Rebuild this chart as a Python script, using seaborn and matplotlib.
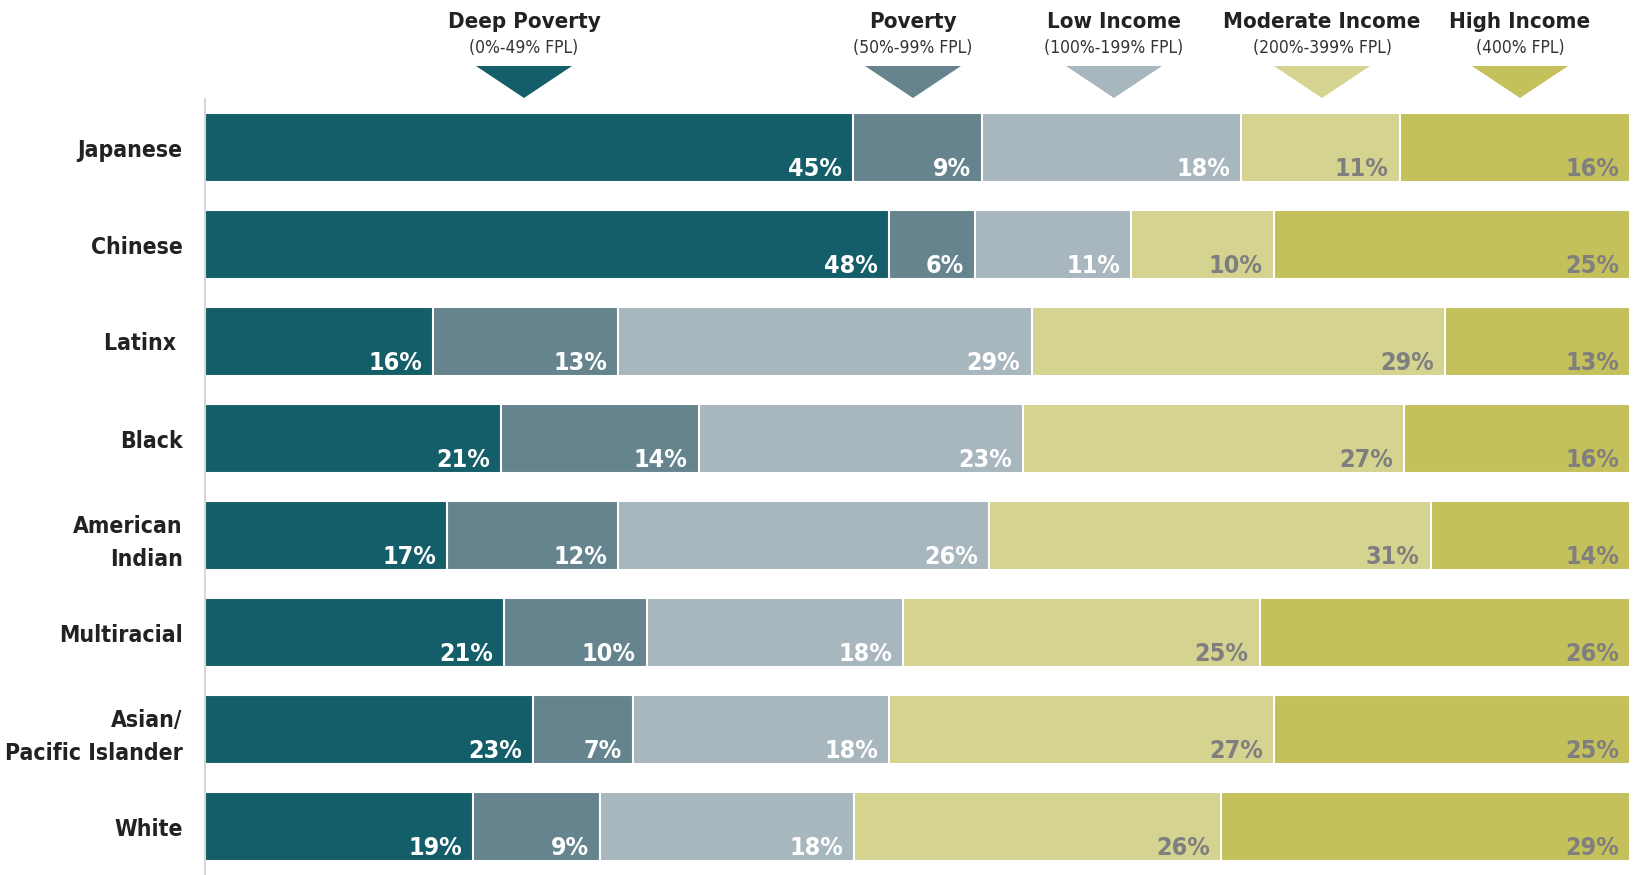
import matplotlib
matplotlib.use("Agg")
import matplotlib.pyplot as plt
from matplotlib.patches import Polygon
import numpy as np
import pandas as pd
import seaborn as sns

groups = ["Japanese", "Chinese", "Latinx ", "Black", "American\nIndian",
          "Multiracial", "Asian/\nPacific Islander", "White"]
deep_poverty = [45, 48, 16, 21, 17, 21, 23, 19]
poverty = [9, 6, 13, 14, 12, 10, 7, 9]
low_income = [18, 11, 29, 23, 26, 18, 18, 18]
moderate_income = [11, 10, 29, 27, 31, 25, 27, 26]
high_income = [16, 25, 13, 16, 14, 26, 25, 29]

levels = ["Deep Poverty", "Poverty", "Low Income", "Moderate Income", "High Income"]
ranges = ["(0%-49% FPL)", "(50%-99% FPL)", "(100%-199% FPL)", "(200%-399% FPL)", "(400% FPL)"]
colors = ["#135e69", "#66848e", "#a8b6bd", "#d4d390", "#c4c05c"]
label_colors = ["white", "white", "white", "#7f7f7f", "#7f7f7f"]

sns.set_theme(style="white")
plt.rcParams["font.family"] = ["DejaVu Sans"]
plt.rcParams["font.stretch"] = "condensed"

values = np.array([deep_poverty, poverty, low_income, moderate_income, high_income], dtype=float)
shares = values / values.sum(axis=0) * 100
cum = np.cumsum(shares, axis=0)

fig = plt.figure(figsize=(16.35, 8.75), dpi=100)
ax = fig.add_axes([205 / 1635, 0.0, 1425 / 1635, 776 / 875])

df = pd.DataFrame({"group": groups})
# stacked bars: draw cumulative totals from the widest down
for i in range(len(levels) - 1, -1, -1):
    df["x"] = cum[i]
    sns.barplot(data=df, x="x", y="group", orient="h", color=colors[i],
                width=0.71, saturation=1, edgecolor="white", linewidth=1.5, ax=ax)

for i in range(len(levels)):
    for j in range(len(groups)):
        ax.annotate(f"{int(values[i, j])}%", xy=(cum[i, j], j + 0.355),
                    xytext=(-8, 1), textcoords="offset points",
                    ha="right", va="bottom", fontsize=18, fontweight="bold",
                    fontstretch="condensed", color=label_colors[i])

ax.set_xlim(0, 100)
ax.set_ylim(len(groups) - 0.5, -0.5)
ax.set_xlabel("")
ax.set_ylabel("")
ax.set_xticks([])
for s in ["top", "right", "bottom"]:
    ax.spines[s].set_visible(False)
ax.spines["left"].set_color("#d0d0d0")
ax.spines["left"].set_linewidth(1.2)
ax.tick_params(axis="y", length=0, pad=16)
for t in ax.get_yticklabels():
    t.set_fontsize(16.5)
    t.set_fontweight("bold")
    t.set_fontstretch("condensed")
    t.set_color("#222222")
    t.set_multialignment("right")
    t.set_linespacing(1.55)

# category headers with pointer triangles
centers_px = [524, 913, 1114, 1322, 1520]
for name, rng, c, col in zip(levels, ranges, centers_px, colors):
    xf = c / 1635
    fig.text(xf, 1 - 22 / 875, name, ha="center", va="center",
             fontsize=16, fontweight="bold", fontstretch="condensed", color="#222222")
    fig.text(xf, 1 - 48 / 875, rng, ha="center", va="center",
             fontsize=12.5, fontstretch="condensed", color="#333333")
    hw = 48 / 1635
    tri = Polygon([(xf - hw, 1 - 66 / 875), (xf + hw, 1 - 66 / 875), (xf, 1 - 98 / 875)],
                  closed=True, transform=fig.transFigure, facecolor=col, edgecolor="none")
    fig.patches.append(tri)

fig.savefig("out.png", dpi=100, facecolor="white")
